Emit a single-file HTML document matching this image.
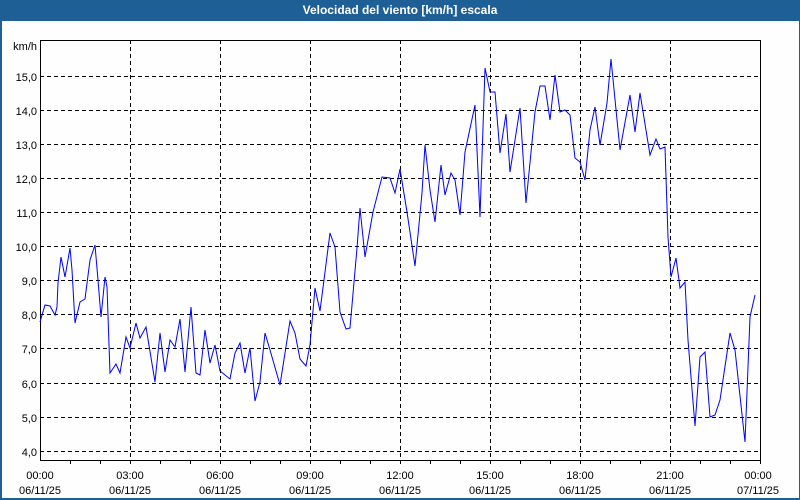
<!DOCTYPE html>
<html><head><meta charset="utf-8"><style>
html,body{margin:0;padding:0;background:#fff;}
svg{display:block;font-family:"Liberation Sans",sans-serif;}
</style></head><body>
<svg width="800" height="500" xmlns="http://www.w3.org/2000/svg">
<rect x="0" y="0" width="800" height="500" fill="#1e6096"/>
<rect x="2" y="21" width="797" height="477" fill="#fdfefd"/>
<text x="400" y="14" fill="#fff" font-size="12" font-weight="bold" text-anchor="middle">Velocidad del viento [km/h] escala</text>
<g stroke="#000" stroke-width="1" stroke-dasharray="4,3" fill="none">
<path d="M40 76.5H760M40 110.5H760M40 144.5H760M40 178.5H760M40 212.5H760M40 246.5H760M40 280.5H760M40 314.5H760M40 348.5H760M40 383.5H760M40 417.5H760M40 451.5H760"/>
<path d="M130.5 40V460M220.5 40V460M310.5 40V460M400.5 40V460M490.5 40V460M580.5 40V460M670.5 40V460"/>
</g>
<rect x="40.5" y="40.5" width="720" height="420" fill="none" stroke="#000"/>
<g stroke="#000"><path d="M70.5 460v4M100.5 460v4M130.5 460v4M160.5 460v4M190.5 460v4M220.5 460v4M250.5 460v4M280.5 460v4M310.5 460v4M340.5 460v4M370.5 460v4M400.5 460v4M430.5 460v4M460.5 460v4M490.5 460v4M520.5 460v4M550.5 460v4M580.5 460v4M610.5 460v4M640.5 460v4M670.5 460v4M700.5 460v4M730.5 460v4M760.5 460v4"/></g>
<g font-size="11" fill="#000" text-anchor="end">
<text x="37" y="50">km/h</text>
<text x="37" y="81">15,0</text><text x="37" y="115">14,0</text><text x="37" y="149">13,0</text><text x="37" y="183">12,0</text><text x="37" y="217">11,0</text><text x="37" y="251">10,0</text><text x="37" y="285">9,0</text><text x="37" y="319">8,0</text><text x="37" y="353">7,0</text><text x="37" y="388">6,0</text><text x="37" y="422">5,0</text><text x="37" y="456">4,0</text>
</g>
<g font-size="11" fill="#000" text-anchor="middle">
<text x="40" y="479">00:00</text><text x="40" y="494">06/11/25</text>
<text x="130" y="479">03:00</text><text x="130" y="494">06/11/25</text>
<text x="220" y="479">06:00</text><text x="220" y="494">06/11/25</text>
<text x="310" y="479">09:00</text><text x="310" y="494">06/11/25</text>
<text x="400" y="479">12:00</text><text x="400" y="494">06/11/25</text>
<text x="490" y="479">15:00</text><text x="490" y="494">06/11/25</text>
<text x="580" y="479">18:00</text><text x="580" y="494">06/11/25</text>
<text x="670" y="479">21:00</text><text x="670" y="494">06/11/25</text>
<text x="758" y="479">00:00</text><text x="758" y="494">07/11/25</text>
</g>
<polyline fill="none" stroke="#0000ff" stroke-width="1" points="40,322 45,305 50,306 55,315 57,307 58,283 61,257 65,277 70,248 72,270 75,323 80,302 85,299 90,260 95,245 98,280 101,317 105,277 107,287 110,373 116,364 120,373 126,337 130,348 136,323 140,338 146,327 155,382 160,333 165,372 170,340 175,347 180,319 185,372 191,307 196,373 200,375 205,330 210,363 215,345 220,371 230,379 235,353 240,343 245,373 250,348 255,401 260,382 265,333 270,350 280,385 290,321 295,333 300,359 306,366 310,345 315,288 320,311 330,233 335,247 340,312 346,329 350,328 357,248 360,208 365,257 373,212 382,177 390,178 395,193 400,169 407,212 415,266 422,193 425,145 430,190 435,222 441,165 445,195 451,173 455,180 460,215 465,152 475,105 480,217 485,68 490,92 495,92 500,153 506,114 510,172 520,108 526,203 535,112 540,86 545,86 550,120 555,75 560,112 565,110 570,115 575,158 580,162 585,180 590,130 595,107 600,145 607,103 611,59 620,150 630,95 635,132 640,93 650,155 656,139 660,149 665,147 668,237 671,277 676,258 680,288 685,282 688,340 695,426 700,357 705,352 710,417 715,415 720,400 730,333 735,350 745,442 750,317 755,295"/>
</svg>
</body></html>
